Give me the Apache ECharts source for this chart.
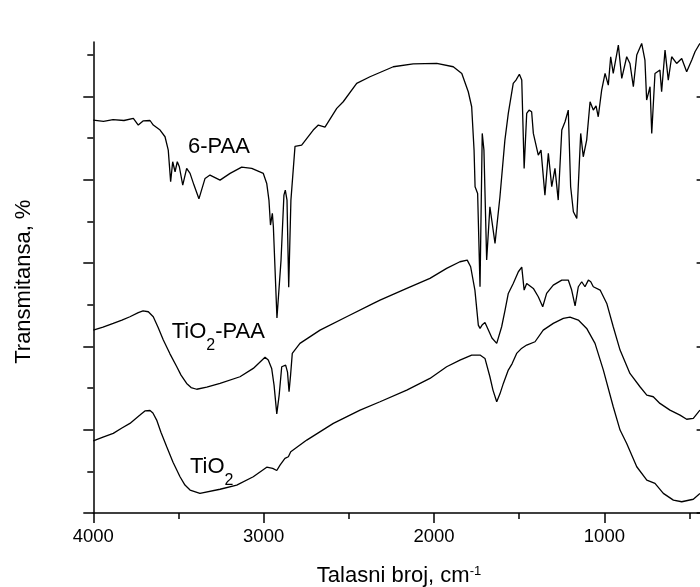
<!DOCTYPE html>
<html>
<head>
<meta charset="utf-8">
<script src="https://cdn.jsdelivr.net/npm/echarts@6/dist/echarts.min.js"></script>
<style>
html,body{margin:0;padding:0;background:#fff;}
#chart{width:700px;height:587px;}
</style>
</head>
<body>
<div id="chart"></div>
<script>
// Wavenumber (cm-1) / transmittance (arbitrary offset units) pairs
const paa6 = [
[4000,94.3],[3940,94.0],[3884,94.4],[3820,94.2],[3765,94.7],[3736,93.1],[3708,94.1],[3667,94.2],[3648,93.1],
[3608,91.9],[3579,90.3],[3560,87.1],[3546,79.5],[3534,84.3],[3520,81.9],[3507,84.3],[3495,83.1],[3475,78.7],
[3452,82.7],[3432,81.5],[3409,78.7],[3380,75.4],[3344,80.3],[3315,81.1],[3256,79.9],[3197,81.5],[3129,83.0],
[3070,82.7],[3002,81.5],[2982,79.1],[2969,75.1],[2960,69.1],[2949,71.9],[2943,68.7],[2922,46.8],[2898,60.7],
[2881,76.3],[2873,77.5],[2863,75.1],[2853,54.2],[2840,75.1],[2816,88.0],[2777,88.3],[2709,91.9],[2679,93.1],
[2640,92.6],[2571,97.1],[2533,98.7],[2454,103.1],[2376,104.7],[2239,107.1],[2122,107.8],[1984,107.9],
[1887,107.1],[1837,105.5],[1799,101.1],[1779,97.5],[1765,87.1],[1759,78.3],[1744,76.7],[1730,54.3],
[1717,91.1],[1707,87.1],[1691,60.7],[1672,73.5],[1642,64.7],[1613,75.9],[1584,89.5],[1564,95.9],[1535,103.1],
[1519,103.9],[1499,105.3],[1485,103.9],[1471,82.7],[1456,95.9],[1442,96.7],[1427,96.3],[1417,91.1],[1388,85.9],
[1372,87.1],[1349,76.3],[1329,86.3],[1309,78.3],[1290,82.7],[1271,75.1],[1250,91.9],[1231,93.9],[1212,96.7],
[1198,78.3],[1182,72.3],[1162,70.7],[1139,91.1],[1124,85.5],[1104,89.5],[1084,98.7],[1065,96.7],[1049,97.7],
[1036,95.1],[1016,101.5],[996,105.5],[977,102.7],[963,109.5],[948,105.5],[918,112.3],[898,104.3],[869,109.5],
[850,107.9],[830,102.3],[810,109.9],[781,112.7],[762,108.7],[752,99.1],[732,102.3],[722,91.1],[703,105.5],
[674,106.3],[664,101.1],[644,111.1],[625,103.9],[605,109.5],[576,107.9],[546,109.1],[517,105.9],[487,108.7],
[468,110.7],[439,112.7]
];
const tio2paa = [
[4000,43.9],[3943,44.6],[3883,45.5],[3832,46.3],[3785,47.1],[3736,48.1],[3708,48.5],[3677,48.3],[3648,47.1],
[3620,44.6],[3589,41.5],[3550,38.2],[3510,35.1],[3485,33.1],[3452,31.1],[3426,30.1],[3393,29.7],[3334,30.2],
[3256,31.1],[3139,32.7],[3061,34.7],[2992,37.4],[2973,36.7],[2953,34.7],[2939,30.7],[2923,23.8],[2909,28.3],
[2894,35.1],[2871,35.5],[2860,33.8],[2851,29.1],[2842,33.1],[2832,38.3],[2787,40.7],[2669,43.9],[2513,47.1],
[2356,50.3],[2317,51.1],[2160,53.9],[2024,56.3],[1926,58.7],[1848,60.3],[1805,60.7],[1785,59.1],[1760,53.5],
[1740,45.1],[1730,44.3],[1718,45.1],[1701,45.7],[1681,43.9],[1660,42.0],[1632,40.7],[1603,44.7],[1583,48.7],
[1564,52.7],[1535,55.1],[1505,57.9],[1485,59.0],[1471,53.5],[1456,55.1],[1417,53.9],[1388,51.9],[1362,49.5],
[1339,52.7],[1300,54.7],[1250,55.9],[1212,55.9],[1192,53.5],[1172,49.7],[1153,54.3],[1133,55.5],[1114,54.3],
[1094,55.9],[1080,55.5],[1065,54.3],[1025,53.5],[986,50.3],[948,44.7],[908,39.1],[850,33.5],[791,30.3],
[751,28.3],[713,27.9],[674,26.3],[615,24.7],[556,23.5],[517,22.5],[478,22.7],[439,24.7]
];
const tio2 = [
[4000,17.3],[3943,18.2],[3883,19.1],[3832,20.4],[3785,21.5],[3726,23.5],[3697,24.5],[3667,24.6],[3650,24.0],
[3628,22.3],[3603,19.4],[3569,15.9],[3532,12.2],[3491,8.7],[3462,6.7],[3432,5.5],[3374,4.7],[3256,5.7],
[3158,6.7],[3061,8.7],[2982,11.0],[2947,10.7],[2923,10.2],[2904,11.5],[2875,13.1],[2855,13.5],[2841,14.7],
[2747,17.5],[2591,21.5],[2434,24.7],[2317,26.7],[2160,29.5],[2024,32.3],[1926,35.1],[1848,36.7],[1779,37.9],
[1730,37.9],[1701,37.1],[1672,32.7],[1654,29.5],[1632,26.7],[1613,28.6],[1593,31.1],[1564,34.3],[1542,35.8],
[1515,38.3],[1489,39.4],[1456,40.3],[1407,41.1],[1359,43.9],[1300,45.5],[1241,46.7],[1202,47.0],[1153,46.3],
[1104,44.3],[1055,40.7],[1006,34.3],[948,25.5],[908,19.9],[869,16.7],[810,11.1],[751,7.9],[703,7.1],
[654,4.7],[595,3.1],[546,2.7],[478,3.3],[439,4.7]
];
const xMajorTicks = [1000, 2000, 3000, 4000];
const xMinorTicks = [500, 1500, 2500, 3500];
const yMajorTicks = [0, 20, 40, 60, 80, 100];
const yMinorTicks = [10, 30, 50, 70, 90, 110];
const seriesNames = ['6-PAA', 'TiO2-PAA', 'TiO2'];

const FONT = 'Liberation Sans, Arial, sans-serif';
const chart = echarts.init(document.getElementById('chart'));
const tickStyle = {color: '#000', width: 1.5};
const xBase = {type: 'value', min: 400, max: 4000, inverse: true, splitLine: {show: false}};
const yBase = {type: 'value', min: 0, max: 113.04, splitLine: {show: false}, axisLabel: {show: false}};
chart.setOption({
  animation: false,
  backgroundColor: '#fff',
  grid: {left: 93.3, right: -6.6, top: 42, bottom: 74, containLabel: false, outerBoundsMode: 'none'},
  xAxis: [
    Object.assign({}, xBase, {
      position: 'bottom',
      axisLine: {show: true, lineStyle: tickStyle},
      axisTick: {show: true, inside: false, length: 10, customValues: xMajorTicks, lineStyle: tickStyle},
      axisLabel: {show: true, customValues: xMajorTicks, margin: 14, color: '#000', fontSize: 18.5, fontFamily: FONT,
                  formatter: v => String(v)}
    }),
    Object.assign({}, xBase, {
      position: 'bottom',
      axisLine: {show: false},
      axisTick: {show: true, inside: false, length: 6, customValues: xMinorTicks, lineStyle: tickStyle},
      axisLabel: {show: false}
    })
  ],
  yAxis: [
    Object.assign({}, yBase, {
      position: 'left',
      axisLine: {show: true, lineStyle: tickStyle},
      axisTick: {show: true, inside: false, length: 10, customValues: yMajorTicks, lineStyle: tickStyle}
    }),
    Object.assign({}, yBase, {
      position: 'left',
      axisLine: {show: false},
      axisTick: {show: true, inside: false, length: 6, customValues: yMinorTicks, lineStyle: tickStyle}
    }),
    Object.assign({}, yBase, {
      position: 'right',
      axisLine: {show: true, lineStyle: tickStyle},
      axisTick: {show: true, inside: true, length: 10, customValues: yMajorTicks, lineStyle: tickStyle}
    }),
    Object.assign({}, yBase, {
      position: 'right',
      axisLine: {show: false},
      axisTick: {show: true, inside: true, length: 6, customValues: yMinorTicks, lineStyle: tickStyle}
    })
  ],
  series: [paa6, tio2paa, tio2].map((d, i) => ({
    name: seriesNames[i],
    type: 'line',
    data: d,
    xAxisIndex: 0,
    yAxisIndex: 0,
    showSymbol: false,
    symbol: 'none',
    clip: true,
    lineStyle: {color: '#000', width: 1.3},
    emphasis: {disabled: true}
  })),
  graphic: [
    {type: 'text', left: 188, top: 136, style: {text: '6-PAA', font: '22px ' + FONT, fill: '#000'}},
    {type: 'text', x: 171.7, y: 321, style: {
      text: '{a|TiO}{s|2}{a|-PAA}', fill: '#000',
      rich: {a: {fontSize: 22, fontFamily: FONT, lineHeight: 26, verticalAlign: 'top'},
             s: {fontSize: 16, fontFamily: FONT, lineHeight: 16, verticalAlign: 'top', padding: [17, 0, 0, 0]}}
    }},
    {type: 'text', x: 190, y: 456, style: {
      text: '{a|TiO}{s|2}', fill: '#000',
      rich: {a: {fontSize: 22, fontFamily: FONT, lineHeight: 26, verticalAlign: 'top'},
             s: {fontSize: 16, fontFamily: FONT, lineHeight: 16, verticalAlign: 'top', padding: [17, 0, 0, 0]}}
    }},
    {type: 'text', x: 399, y: 564.5, style: {
      text: '{a|Talasni broj, cm}{p|-1}', fill: '#000', align: 'center',
      rich: {a: {fontSize: 22, fontFamily: FONT, lineHeight: 26, verticalAlign: 'top'},
             p: {fontSize: 13, fontFamily: FONT, lineHeight: 13, verticalAlign: 'top'}}
    }},
    {type: 'text', x: 24, y: 281.7, rotation: Math.PI / 2, style: {
      text: 'Transmitansa, %', font: '22px ' + FONT, fill: '#000', align: 'center', verticalAlign: 'middle'
    }}
  ]
});
</script>
</body>
</html>
